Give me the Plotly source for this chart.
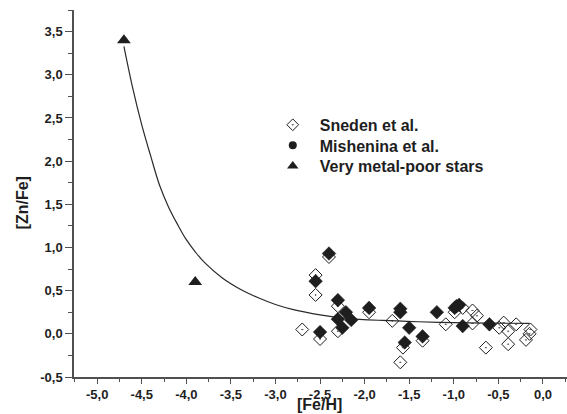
import plotly.graph_objects as go

# Sneden et al. (open diamonds)
sneden_feh = [-2.70, -2.55, -2.55, -2.50, -2.40, -2.30, -2.30, -1.95, -1.69, -1.60,
              -1.57, -1.35, -1.09, -0.99, -0.90, -0.79, -0.79, -0.74, -0.64, -0.49,
              -0.44, -0.39, -0.39, -0.30, -0.19, -0.15, -0.14]
sneden_znfe = [0.05, 0.68, 0.45, -0.06, 0.89, 0.32, 0.03, 0.25, 0.15, -0.33,
               -0.16, -0.08, 0.11, 0.25, 0.30, 0.27, 0.12, 0.21, -0.16, 0.07,
               0.13, 0.03, -0.12, 0.11, -0.07, 0.00, 0.05]

# Mishenina et al. (filled)
mish_feh = [-2.40, -2.55, -2.50, -2.30, -2.30, -2.21, -2.15, -2.25, -1.95, -1.60,
            -1.60, -1.50, -1.55, -1.35, -1.19, -0.97, -0.94, -0.99, -0.90, -0.60]
mish_znfe = [0.93, 0.61, 0.02, 0.39, 0.17, 0.25, 0.16, 0.07, 0.30, 0.29,
             0.25, 0.07, -0.10, -0.03, 0.25, 0.32, 0.335, 0.30, 0.09, 0.11]

# Very metal-poor stars (triangles)
vmp_feh = [-4.70, -3.90]
vmp_znfe = [3.40, 0.60]

# Fitted decay curve, sampled along [Fe/H]
curve_feh = [-4.70, -4.60, -4.50, -4.40, -4.30, -4.20, -4.10, -4.00, -3.90, -3.80,
             -3.60, -3.40, -3.20, -3.00, -2.80, -2.50, -2.20, -1.80, -1.40, -1.00,
             -0.60, -0.15]
curve_znfe = [3.33, 2.84, 2.42, 2.06, 1.72, 1.47, 1.27, 1.09, 0.95, 0.83,
              0.65, 0.52, 0.42, 0.34, 0.28, 0.22, 0.18, 0.155, 0.14, 0.13,
              0.125, 0.12]

x_ticks = [-5.0, -4.5, -4.0, -3.5, -3.0, -2.5, -2.0, -1.5, -1.0, -0.5, 0.0]
y_ticks = [-0.5, 0.0, 0.5, 1.0, 1.5, 2.0, 2.5, 3.0, 3.5]

series_names = ["Sneden et al.", "Mishenina et al.", "Very metal-poor stars"]


def comma(v):
    return f"{v:.1f}".replace(".", ",")


INK = "#1e1e1e"
AXIS = "#505050"
FONT = "Liberation Sans, Arial, sans-serif"

fig = go.Figure()

fig.add_trace(go.Scatter(
    x=curve_feh, y=curve_znfe, mode="lines",
    line=dict(color="#2a2a2a", width=1.2, shape="spline", smoothing=1.0),
    showlegend=False, hoverinfo="skip"))

fig.add_trace(go.Scatter(
    x=sneden_feh, y=sneden_znfe, mode="markers", showlegend=False,
    marker=dict(symbol="diamond-open-dot", size=10, color=INK,
                line=dict(width=1, color=INK))))

fig.add_trace(go.Scatter(
    x=mish_feh, y=mish_znfe, mode="markers", showlegend=False,
    marker=dict(symbol="diamond", size=10.5, color=INK,
                line=dict(width=0.5, color=INK))))

fig.add_trace(go.Scatter(
    x=vmp_feh, y=vmp_znfe, mode="markers", showlegend=False,
    marker=dict(symbol="triangle-up", size=12, color=INK)))

# legend entries, one legend per row for even spacing
legend_markers = [
    dict(symbol="diamond-open-dot", size=9, color=INK, line=dict(width=1, color=INK)),
    dict(symbol="circle", size=8, color=INK),
    dict(symbol="triangle-up", size=10, color=INK),
]
legend_ids = ["legend", "legend2", "legend3"]
for name, mk, lid in zip(series_names, legend_markers, legend_ids):
    fig.add_trace(go.Scatter(x=[None], y=[None], mode="markers", name=name,
                             marker=mk, legend=lid))

axis_common = dict(
    showgrid=False, zeroline=False, showline=True, linecolor=AXIS, linewidth=1.5,
    ticks="outside", tickcolor=AXIS, tickwidth=1.2,
    tickfont=dict(family=FONT, size=13, color=INK, weight="bold"),
)

fig.update_xaxes(
    range=[-5.26, 0.27], tickvals=x_ticks, ticktext=[comma(v) for v in x_ticks],
    ticklen=5, minor=dict(dtick=0.25, tick0=0, ticks="outside", ticklen=3,
                          tickcolor=AXIS, tickwidth=1.2),
    **axis_common)
fig.update_yaxes(
    range=[-0.5, 3.75], tickvals=y_ticks, ticktext=[comma(v) for v in y_ticks],
    ticklen=7, minor=dict(dtick=0.25, tick0=0, ticks="outside", ticklen=4,
                          tickcolor=AXIS, tickwidth=1.2),
    **axis_common)


def legend_row(ypos):
    return dict(x=0.389, y=ypos, xanchor="left", yanchor="middle",
                itemwidth=44, bgcolor="rgba(0,0,0,0)",
                font=dict(family=FONT, size=16, color=INK, weight="bold"))


fig.update_layout(
    width=567, height=414,
    margin=dict(l=74, r=0, t=10, b=37),
    paper_bgcolor="white", plot_bgcolor="white",
    font=dict(family=FONT, color=INK),
    legend=legend_row(0.687),
    legend2=legend_row(0.631),
    legend3=legend_row(0.575),
    annotations=[
        dict(text="[Fe/H]", xref="paper", yref="paper", x=0.4975, y=-0.075,
             xanchor="center", yanchor="middle", showarrow=False,
             font=dict(family=FONT, size=16, color=INK, weight="bold")),
        dict(text="[Zn/Fe]", xref="paper", yref="paper", x=-0.104, y=0.475,
             xanchor="center", yanchor="middle", showarrow=False, textangle=-90,
             font=dict(family=FONT, size=16, color=INK, weight="bold")),
    ],
)

fig.write_html("out.html")
